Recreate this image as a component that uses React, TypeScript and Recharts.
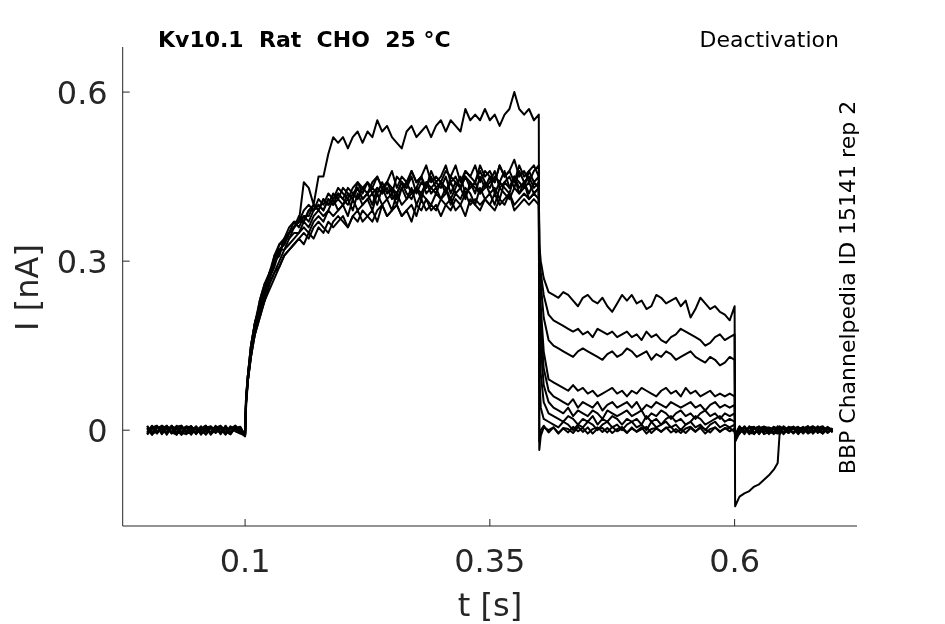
import React from "react";
import { LineChart, Line, XAxis, YAxis } from "recharts";

// time grids (s)
const tBase = [0, 0.005, 0.01, 0.015, 0.02, 0.025, 0.03, 0.035, 0.04, 0.045, 0.05, 0.055, 0.06, 0.065, 0.07, 0.075, 0.08, 0.085, 0.09, 0.095, 0.1];
const tAct = [
  0.101, 0.103, 0.106, 0.11, 0.115, 0.12, 0.125, 0.13, 0.135, 0.14,
  0.145, 0.15, 0.155, 0.16, 0.165, 0.17, 0.175, 0.18, 0.185, 0.19,
  0.195, 0.2, 0.205, 0.21, 0.215, 0.22, 0.225, 0.23, 0.235, 0.24,
  0.245, 0.25, 0.255, 0.26, 0.265, 0.27, 0.275, 0.28, 0.285, 0.29,
  0.295, 0.3, 0.305, 0.31, 0.315, 0.32, 0.325, 0.33, 0.335, 0.34,
  0.345, 0.35, 0.355, 0.36, 0.365, 0.37, 0.375, 0.38, 0.385, 0.39,
  0.395, 0.4,
];
const tDeact = [
  0.4005, 0.402, 0.405, 0.41, 0.415, 0.42, 0.425, 0.43, 0.435, 0.44,
  0.445, 0.45, 0.455, 0.46, 0.465, 0.47, 0.475, 0.48, 0.485, 0.49,
  0.495, 0.5, 0.505, 0.51, 0.515, 0.52, 0.525, 0.53, 0.535, 0.54,
  0.545, 0.55, 0.555, 0.56, 0.565, 0.57, 0.575, 0.58, 0.585, 0.59,
  0.595, 0.6,
];
const tPost = [0.6005, 0.605, 0.61, 0.615, 0.62, 0.625, 0.63, 0.635, 0.64, 0.644, 0.646, 0.65, 0.655, 0.66, 0.665, 0.67, 0.675, 0.68, 0.685, 0.69, 0.695, 0.7];

// ---- trace 0 (largest activation) ----
const base0 = [0.004, -0.007, 0.006, -0.003, 0.008, -0.005, 0.002, -0.008, 0.006, -0.002, 0.007, -0.006, 0.003, -0.004, 0.008, -0.007, 0.005, -0.003, 0.006, -0.002, -0.008];
const act0 = [
  0.05, 0.1, 0.14, 0.18, 0.22, 0.25, 0.27, 0.3, 0.32, 0.33,
  0.35, 0.36, 0.37, 0.44, 0.43, 0.4, 0.45, 0.45, 0.49, 0.52,
  0.51, 0.52, 0.5, 0.52, 0.53, 0.51, 0.53, 0.52, 0.55, 0.53,
  0.54, 0.52, 0.51, 0.5, 0.53, 0.54, 0.52, 0.53, 0.54, 0.52,
  0.54, 0.55, 0.53, 0.55, 0.54, 0.53, 0.57, 0.55, 0.56, 0.55,
  0.57, 0.55, 0.56, 0.54, 0.56, 0.57, 0.6, 0.57, 0.56, 0.57,
  0.55, 0.56,
];
const deact0 = [
  -0.02, 0.0, 0.008, -0.004, 0.005, -0.006, 0.004, 0.002, -0.005, 0.006,
  -0.003, 0.005, -0.006, 0.003, 0.004, -0.004, 0.006, -0.002, 0.003, -0.005,
  0.005, -0.003, 0.002, 0.006, -0.005, 0.003, -0.002, 0.004, 0.006, -0.004,
  0.002, -0.005, 0.004, -0.003, 0.006, 0.002, -0.004, 0.005, -0.002, 0.003,
  0.004, -0.003,
];
const post0 = [-0.01, 0.006, -0.004, 0.005, -0.006, 0.003, 0.006, -0.005, -0.003, 0.002, 0.005, -0.004, 0.006, 0.003, -0.007, 0.004, -0.002, 0.006, -0.005, 0.002, 0.005, -0.003];

// ---- trace 1 ----
const base1 = [-0.006, 0.007, -0.003, 0.008, -0.006, 0.004, -0.008, 0.005, -0.002, 0.007, -0.005, 0.003, 0.008, -0.006, 0.002, -0.004, 0.007, -0.007, 0.004, 0.006, -0.01];
const act1 = [
  0.05, 0.1, 0.15, 0.19, 0.22, 0.25, 0.28, 0.3, 0.31, 0.34,
  0.35, 0.36, 0.37, 0.37, 0.39, 0.39, 0.4, 0.39, 0.41, 0.4,
  0.42, 0.41, 0.4, 0.42, 0.43, 0.41, 0.42, 0.43, 0.42, 0.44,
  0.42, 0.43, 0.41, 0.43, 0.44, 0.42, 0.43, 0.45, 0.42, 0.43,
  0.44, 0.43, 0.45, 0.42, 0.44, 0.43, 0.45, 0.44, 0.42, 0.45,
  0.43, 0.44, 0.46, 0.43, 0.44, 0.45, 0.43, 0.46, 0.44, 0.45,
  0.43, 0.44,
];
const deact1 = [
  0.33, 0.3, 0.27, 0.245, 0.24, 0.235, 0.245, 0.24, 0.23, 0.22,
  0.235, 0.24, 0.23, 0.225, 0.235, 0.22, 0.21, 0.225, 0.24, 0.23,
  0.24, 0.225, 0.23, 0.215, 0.22, 0.24, 0.235, 0.225, 0.23, 0.235,
  0.22, 0.23, 0.2, 0.215, 0.235, 0.225, 0.215, 0.22, 0.21, 0.205,
  0.195, 0.22,
];
const post1 = [-0.135, -0.118, -0.112, -0.108, -0.1, -0.096, -0.088, -0.08, -0.07, -0.058, -0.005, 0.004, -0.005, 0.003, 0.006, -0.004, 0.005, -0.003, 0.004, -0.006, 0.003, 0.001];

// ---- trace 2 ----
const base2 = [0.007, -0.004, 0.008, -0.006, 0.003, 0.006, -0.005, 0.008, -0.007, 0.002, 0.005, -0.008, 0.004, 0.007, -0.003, 0.006, -0.006, 0.002, 0.008, -0.004, -0.006];
const act2 = [
  0.06, 0.09, 0.14, 0.18, 0.23, 0.26, 0.27, 0.31, 0.32, 0.33,
  0.35, 0.37, 0.36, 0.38, 0.38, 0.4, 0.39, 0.41, 0.4, 0.42,
  0.41, 0.43, 0.42, 0.41, 0.44, 0.43, 0.42, 0.44, 0.45, 0.43,
  0.44, 0.42, 0.45, 0.44, 0.43, 0.46, 0.44, 0.45, 0.43, 0.46,
  0.44, 0.45, 0.47, 0.44, 0.45, 0.43, 0.46, 0.45, 0.47, 0.44,
  0.46, 0.45, 0.44, 0.47, 0.45, 0.46, 0.44, 0.47, 0.45, 0.46,
  0.47, 0.45,
];
const deact2 = [
  0.32, 0.28, 0.24, 0.205, 0.195, 0.19, 0.185, 0.18, 0.175, 0.18,
  0.17, 0.175, 0.165, 0.18, 0.175, 0.17, 0.175, 0.165, 0.17, 0.175,
  0.165, 0.17, 0.16, 0.175, 0.165, 0.17, 0.16, 0.155, 0.165, 0.17,
  0.18, 0.175, 0.17, 0.165, 0.16, 0.15, 0.155, 0.165, 0.17, 0.16,
  0.165, 0.17,
];
const post2 = [-0.02, -0.005, 0.007, -0.003, 0.005, -0.006, 0.004, -0.005, 0.006, 0.002, -0.006, 0.004, -0.002, 0.006, -0.004, 0.003, 0.007, -0.005, 0.002, -0.003, 0.005, -0.001];

// ---- trace 3 ----
const base3 = [-0.003, 0.008, -0.006, 0.004, 0.007, -0.005, 0.008, -0.003, 0.005, -0.008, 0.006, -0.002, -0.007, 0.005, 0.003, -0.006, 0.008, -0.004, 0.002, 0.006, -0.009];
const act3 = [
  0.05, 0.09, 0.13, 0.18, 0.21, 0.24, 0.27, 0.29, 0.32, 0.32,
  0.34, 0.35, 0.35, 0.37, 0.36, 0.38, 0.39, 0.38, 0.39, 0.41,
  0.39, 0.4, 0.41, 0.39, 0.42, 0.4, 0.41, 0.42, 0.4, 0.43,
  0.41, 0.42, 0.4, 0.43, 0.41, 0.42, 0.43, 0.41, 0.44, 0.42,
  0.43, 0.41, 0.42, 0.44, 0.42, 0.43, 0.41, 0.44, 0.43, 0.42,
  0.44, 0.42, 0.43, 0.41, 0.44, 0.43, 0.45, 0.42, 0.43, 0.44,
  0.42, 0.43,
];
const deact3 = [
  0.31, 0.26, 0.2, 0.16, 0.15, 0.145, 0.14, 0.135, 0.13, 0.14,
  0.145, 0.14, 0.135, 0.13, 0.125, 0.135, 0.14, 0.13, 0.135, 0.145,
  0.14, 0.13, 0.135, 0.14, 0.125, 0.135, 0.13, 0.14, 0.135, 0.125,
  0.13, 0.135, 0.14, 0.13, 0.125, 0.12, 0.13, 0.125, 0.115, 0.12,
  0.13, 0.125,
];
const post3 = [-0.015, 0.006, -0.004, 0.005, -0.007, 0.003, 0.006, -0.002, -0.006, 0.007, 0.002, -0.005, 0.004, -0.006, 0.003, 0.005, -0.004, 0.006, -0.002, 0.004, -0.005, 0.002];

// ---- trace 4 ----
const base4 = [0.005, -0.008, 0.004, 0.007, -0.004, 0.008, -0.006, 0.003, 0.006, -0.005, -0.002, 0.007, -0.008, 0.004, -0.003, 0.006, 0.002, -0.007, 0.005, -0.004, -0.006];
const act4 = [
  0.04, 0.09, 0.14, 0.17, 0.21, 0.23, 0.26, 0.28, 0.3, 0.32,
  0.33, 0.34, 0.35, 0.36, 0.35, 0.37, 0.38, 0.37, 0.39, 0.38,
  0.39, 0.4, 0.38, 0.41, 0.39, 0.4, 0.41, 0.39, 0.42, 0.4,
  0.41, 0.39, 0.42, 0.4, 0.41, 0.43, 0.4, 0.42, 0.41, 0.4,
  0.42, 0.41, 0.43, 0.4, 0.42, 0.41, 0.43, 0.42, 0.4, 0.43,
  0.41, 0.42, 0.4, 0.43, 0.42, 0.41, 0.43, 0.42, 0.44, 0.41,
  0.42, 0.43,
];
const deact4 = [
  0.3, 0.22, 0.14, 0.09, 0.085, 0.08, 0.075, 0.07, 0.08, 0.07,
  0.075, 0.065, 0.07, 0.06, 0.065, 0.07, 0.075, 0.065, 0.07, 0.06,
  0.07, 0.065, 0.075, 0.07, 0.065, 0.06, 0.07, 0.075, 0.065, 0.07,
  0.06, 0.075, 0.065, 0.07, 0.06, 0.065, 0.07, 0.06, 0.065, 0.06,
  0.065, 0.06,
];
const post4 = [-0.01, -0.006, 0.005, -0.007, 0.002, 0.007, -0.004, 0.005, 0.002, -0.005, 0.007, 0.003, -0.004, 0.006, -0.006, 0.002, 0.005, -0.003, 0.007, -0.005, 0.003, -0.003];

// ---- trace 5 ----
const base5 = [-0.008, 0.003, 0.007, -0.005, 0.008, -0.003, 0.005, -0.008, 0.004, 0.007, -0.006, 0.002, 0.008, -0.005, -0.002, 0.006, -0.007, 0.004, 0.006, -0.003, -0.011];
const act5 = [
  0.06, 0.1, 0.15, 0.19, 0.22, 0.24, 0.28, 0.3, 0.33, 0.33,
  0.35, 0.36, 0.38, 0.37, 0.39, 0.4, 0.39, 0.41, 0.4, 0.41,
  0.42, 0.41, 0.43, 0.42, 0.41, 0.43, 0.44, 0.42, 0.43, 0.42,
  0.44, 0.43, 0.42, 0.44, 0.43, 0.45, 0.42, 0.44, 0.43, 0.45,
  0.43, 0.44, 0.42, 0.45, 0.44, 0.43, 0.45, 0.43, 0.44, 0.46,
  0.44, 0.43, 0.45, 0.44, 0.46, 0.43, 0.45, 0.44, 0.43, 0.46,
  0.44, 0.45,
];
const deact5 = [
  0.28, 0.19, 0.11, 0.07, 0.06, 0.055, 0.05, 0.045, 0.055, 0.04,
  0.05, 0.045, 0.04, 0.05, 0.035, 0.045, 0.05, 0.04, 0.045, 0.05,
  0.04, 0.05, 0.035, 0.045, 0.04, 0.05, 0.045, 0.04, 0.05, 0.045,
  0.04, 0.045, 0.05, 0.04, 0.045, 0.035, 0.045, 0.05, 0.04, 0.045,
  0.04, 0.045,
];
const post5 = [-0.02, 0.004, -0.007, 0.006, 0.005, -0.003, 0.006, -0.007, 0.004, 0.003, -0.006, 0.007, 0.0, -0.004, 0.005, -0.006, 0.003, 0.007, -0.002, -0.005, 0.004, 0.0];

// ---- trace 6 ----
const base6 = [0.008, -0.006, -0.003, 0.005, -0.008, 0.006, 0.004, -0.005, -0.007, 0.005, 0.002, -0.004, 0.007, -0.006, 0.004, 0.008, -0.003, -0.007, 0.005, 0.003, -0.008];
const act6 = [
  0.05, 0.09, 0.13, 0.17, 0.2, 0.23, 0.26, 0.28, 0.29, 0.31,
  0.32, 0.33, 0.34, 0.33, 0.35, 0.34, 0.36, 0.35, 0.37, 0.36,
  0.37, 0.38, 0.36, 0.38, 0.37, 0.39, 0.38, 0.37, 0.39, 0.4,
  0.38, 0.39, 0.4, 0.38, 0.39, 0.4, 0.38, 0.41, 0.39, 0.4,
  0.39, 0.41, 0.4, 0.39, 0.41, 0.4, 0.42, 0.4, 0.41, 0.4,
  0.41, 0.4, 0.42, 0.4, 0.41, 0.42, 0.4, 0.41, 0.42, 0.41,
  0.42, 0.41,
];
const deact6 = [
  0.25, 0.15, 0.08, 0.05, 0.04, 0.035, 0.03, 0.04, 0.025, 0.035,
  0.03, 0.025, 0.035, 0.03, 0.02, 0.035, 0.03, 0.025, 0.03, 0.035,
  0.025, 0.03, 0.035, 0.02, 0.03, 0.025, 0.035, 0.03, 0.02, 0.03,
  0.035, 0.025, 0.03, 0.02, 0.03, 0.035, 0.025, 0.03, 0.02, 0.03,
  0.025, 0.03,
];
const post6 = [-0.012, -0.003, 0.006, -0.005, -0.006, 0.005, -0.003, 0.004, -0.007, 0.006, -0.002, -0.006, 0.003, 0.006, -0.004, 0.002, -0.005, 0.006, 0.003, -0.006, 0.004, 0.002];

// ---- trace 7 ----
const base7 = [-0.004, 0.005, 0.008, -0.007, 0.004, -0.006, 0.006, 0.008, -0.004, -0.006, 0.005, -0.003, 0.006, -0.008, 0.003, 0.005, -0.005, 0.007, -0.002, -0.006, -0.009];
const act7 = [
  0.05, 0.1, 0.14, 0.19, 0.22, 0.25, 0.27, 0.3, 0.31, 0.34,
  0.34, 0.36, 0.37, 0.38, 0.37, 0.39, 0.4, 0.39, 0.41, 0.4,
  0.41, 0.4, 0.42, 0.41, 0.43, 0.41, 0.42, 0.4, 0.43, 0.42,
  0.43, 0.41, 0.42, 0.44, 0.42, 0.41, 0.43, 0.42, 0.44, 0.43,
  0.42, 0.44, 0.43, 0.41, 0.43, 0.45, 0.42, 0.43, 0.44, 0.42,
  0.43, 0.45, 0.42, 0.44, 0.43, 0.42, 0.45, 0.43, 0.44, 0.42,
  0.44, 0.43,
];
const deact7 = [
  0.2, 0.1, 0.05, 0.03, 0.025, 0.02, 0.015, 0.025, 0.02, 0.01,
  0.02, 0.015, 0.025, 0.01, 0.02, 0.015, 0.025, 0.02, 0.01, 0.02,
  0.015, 0.02, 0.01, 0.025, 0.015, 0.02, 0.01, 0.02, 0.025, 0.015,
  0.02, 0.01, 0.015, 0.025, 0.02, 0.01, 0.015, 0.02, 0.025, 0.015,
  0.02, 0.015,
];
const post7 = [-0.008, 0.007, -0.003, 0.004, 0.006, -0.007, 0.005, 0.002, -0.004, -0.006, 0.005, 0.002, -0.005, 0.006, -0.002, 0.004, -0.006, 0.003, 0.005, -0.004, 0.006, -0.004];

// ---- trace 8 ----
const base8 = [0.003, -0.008, 0.005, 0.002, -0.005, 0.008, -0.004, -0.006, 0.007, 0.004, -0.007, 0.005, -0.002, 0.006, -0.005, 0.003, -0.008, 0.006, 0.002, -0.004, -0.006];
const act8 = [
  0.05, 0.09, 0.13, 0.17, 0.2, 0.23, 0.25, 0.27, 0.29, 0.31,
  0.32, 0.33, 0.34, 0.35, 0.34, 0.36, 0.37, 0.36, 0.35, 0.37,
  0.38, 0.37, 0.36, 0.38, 0.39, 0.37, 0.38, 0.39, 0.37, 0.4,
  0.38, 0.39, 0.4, 0.38, 0.39, 0.37, 0.4, 0.39, 0.41, 0.39,
  0.4, 0.38, 0.4, 0.41, 0.39, 0.4, 0.38, 0.41, 0.4, 0.39,
  0.41, 0.4, 0.39, 0.41, 0.4, 0.42, 0.39, 0.4, 0.41, 0.4,
  0.41, 0.4,
];
const deact8 = [
  0.1, 0.04, 0.02, 0.015, 0.01, 0.005, 0.015, 0.01, 0.0, 0.01,
  0.005, 0.015, 0.01, 0.0, 0.01, 0.015, 0.005, 0.01, 0.0, 0.01,
  0.015, 0.005, 0.01, 0.0, 0.015, 0.005, 0.01, 0.015, 0.005, 0.01,
  0.0, 0.01, 0.015, 0.005, 0.01, 0.0, 0.01, 0.015, 0.005, 0.01,
  0.005, 0.01,
];
const post8 = [-0.006, -0.005, 0.004, -0.006, 0.003, 0.006, -0.007, -0.003, 0.006, 0.002, -0.007, 0.006, 0.001, -0.005, 0.004, -0.003, 0.007, -0.006, 0.002, 0.005, -0.004, 0.001];

// ---- trace 9 ----
const base9 = [-0.007, 0.004, -0.005, 0.008, 0.003, -0.004, -0.008, 0.006, -0.003, 0.007, -0.006, 0.004, 0.002, -0.007, 0.006, -0.003, 0.005, -0.006, 0.008, -0.002, -0.01];
const act9 = [
  0.06, 0.1, 0.15, 0.19, 0.23, 0.26, 0.28, 0.31, 0.33, 0.34,
  0.36, 0.37, 0.37, 0.39, 0.4, 0.39, 0.41, 0.4, 0.42, 0.41,
  0.43, 0.42, 0.41, 0.43, 0.44, 0.42, 0.44, 0.43, 0.45, 0.43,
  0.44, 0.46, 0.43, 0.45, 0.44, 0.46, 0.44, 0.45, 0.47, 0.44,
  0.45, 0.44, 0.46, 0.45, 0.47, 0.44, 0.46, 0.45, 0.44, 0.47,
  0.45, 0.46, 0.44, 0.47, 0.45, 0.46, 0.48, 0.45, 0.46, 0.44,
  0.46, 0.47,
];
const deact9 = [
  -0.035, -0.01, 0.005, 0.0, 0.005, -0.005, 0.003, -0.004, 0.006, -0.002,
  0.004, -0.006, 0.002, 0.005, -0.003, 0.004, -0.005, 0.002, 0.006, -0.004,
  0.003, -0.002, 0.005, -0.006, 0.002, 0.004, -0.003, 0.005, -0.004, 0.002,
  -0.005, 0.003, 0.006, -0.002, 0.004, -0.006, 0.002, 0.005, -0.003, 0.004,
  -0.002, 0.003,
];
const post9 = [-0.01, 0.003, -0.005, 0.007, -0.004, -0.002, 0.006, 0.004, -0.003, -0.005, 0.004, -0.007, 0.003, 0.005, -0.002, 0.006, -0.005, -0.002, 0.004, 0.007, -0.003, 0.003];

const xTicks = [0.1, 0.35, 0.6];
const yTicks = [0, 0.3, 0.6];

const traces = [
  [base0, act0, deact0, post0],
  [base1, act1, deact1, post1],
  [base2, act2, deact2, post2],
  [base3, act3, deact3, post3],
  [base4, act4, deact4, post4],
  [base5, act5, deact5, post5],
  [base6, act6, deact6, post6],
  [base7, act7, deact7, post7],
  [base8, act8, deact8, post8],
  [base9, act9, deact9, post9],
];

const times = [...tBase, ...tAct, ...tDeact, ...tPost];
const seriesValues = traces.map((segs) => ([] as number[]).concat(...segs));
const rows = times.map((t, i) => {
  const r: Record<string, number> = { t };
  seriesValues.forEach((vals, k) => {
    r["s" + k] = vals[i];
  });
  return r;
});

const FONT = "'DejaVu Sans', sans-serif";
const AX = "#262626";

const XTick = (props: any) => {
  const { x, y, payload } = props;
  return (
    <g>
      <line x1={x} x2={x} y1={y} y2={y - 7} stroke={AX} strokeWidth={1} />
      <text x={x} y={y + 46} textAnchor="middle" fontSize={32} fontFamily={FONT} fill={AX}>
        {String(payload.value)}
      </text>
    </g>
  );
};

const YTick = (props: any) => {
  const { x, y, payload } = props;
  return (
    <g>
      <line x1={x} x2={x + 7} y1={y} y2={y} stroke={AX} strokeWidth={1} />
      <text x={x - 15} y={y + 11.5} textAnchor="end" fontSize={32} fontFamily={FONT} fill={AX}>
        {String(payload.value)}
      </text>
    </g>
  );
};

export default function App() {
  return (
    <div style={{ position: "fixed", left: 8, top: 8, width: 929, height: 616 }}>
      <LineChart
        width={929}
        height={608}
        data={rows}
        margin={{ top: 39, right: 80, bottom: 30, left: 0 }}
      >
        <XAxis
          dataKey="t"
          type="number"
          domain={[-0.025, 0.725]}
          allowDataOverflow
          ticks={xTicks}
          interval={0}
          height={60}
          tickSize={0}
          tickMargin={0}
          tickLine={false}
          axisLine={{ stroke: AX, strokeWidth: 1 }}
          tick={(p: any) => <XTick {...p} />}
        />
        <YAxis
          type="number"
          domain={[-0.17, 0.68]}
          allowDataOverflow
          ticks={yTicks}
          interval={0}
          width={114.7}
          tickSize={0}
          tickMargin={0}
          tickLine={false}
          axisLine={{ stroke: AX, strokeWidth: 1 }}
          tick={(p: any) => <YTick {...p} />}
        />
        {seriesValues.map((_, k) => (
          <Line
            key={k}
            dataKey={"s" + k}
            type="linear"
            stroke="#000"
            strokeWidth={2}
            strokeLinejoin="round"
            dot={false}
            activeDot={false}
            isAnimationActive={false}
          />
        ))}
      </LineChart>
      <svg
        width={929}
        height={616}
        style={{ position: "absolute", left: 0, top: 0, overflow: "visible", pointerEvents: "none" }}
      >
        <text x={150} y={38.7} fontSize={22} fontWeight="bold" fontFamily={FONT} fill="#000" style={{ whiteSpace: "pre" }}>
          {"Kv10.1  Rat  CHO  25 °C"}
        </text>
        <text x={831} y={38.7} fontSize={22} textAnchor="end" fontFamily={FONT} fill="#000">
          Deactivation
        </text>
        <text
          x={847}
          y={279.5}
          fontSize={22}
          textAnchor="middle"
          fontFamily={FONT}
          fill="#000"
          transform="rotate(-90 847 279.5)"
        >
          BBP Channelpedia ID 15141 rep 2
        </text>
        <text
          x={30}
          y={279.5}
          fontSize={32}
          textAnchor="middle"
          fontFamily={FONT}
          fill={AX}
          transform="rotate(-90 30 279.5)"
        >
          I [nA]
        </text>
        <text x={482} y={608} fontSize={32} textAnchor="middle" fontFamily={FONT} fill={AX}>
          t [s]
        </text>
      </svg>
    </div>
  );
}
